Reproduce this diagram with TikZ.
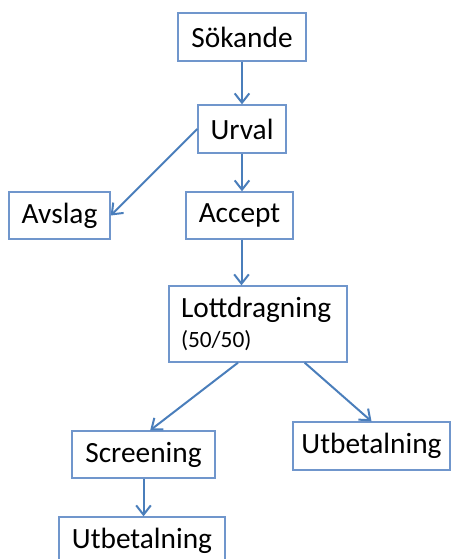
\documentclass[tikz,border=0pt]{standalone}
\usepackage{fontspec}
\setmainfont{Carlito}
\usepackage{tikz}
\usetikzlibrary{arrows.meta}

\definecolor{boxblue}{RGB}{112,150,204}
\definecolor{arrowblue}{RGB}{74,126,187}

\begin{document}
\begin{tikzpicture}[x=0.75pt,y=0.75pt,yscale=-1,xscale=1,
  box/.style={draw=boxblue,line width=1pt,fill=white,inner sep=0pt,font=\fontsize{22}{26}\selectfont},
  flow/.style={draw=arrowblue,line width=1.5pt,-{Straight Barb[length=7pt,width=11pt,line width=1.5pt]}}]
\useasboundingbox (0,0) rectangle (451,559);

% Boxes
\node[box,minimum width=96pt,minimum height=36pt] (sokande) at (242,37) {Sökande};
\node[box,minimum width=66pt,minimum height=36pt] (urval) at (242,129) {Urval};
\node[box,minimum width=75.75pt,minimum height=35.25pt] (avslag) at (59.5,215.5) {Avslag};
\node[box,minimum width=80.25pt,minimum height=35.25pt] (accept) at (239.5,215.5) {Accept};
\node[box,minimum width=133.5pt,minimum height=57pt,inner xsep=9pt,text width=115.5pt,align=left] (lott) at (258,324)
  {Lottdragning\\[-3pt]{\fontsize{17.5}{20}\selectfont (50/50)}};
\node[box,minimum width=117.75pt,minimum height=36pt] (utbhoger) at (371.5,446) {Utbetalning};
\node[box,minimum width=107.25pt,minimum height=35.25pt] (screening) at (143.5,454.5) {Screening};
\node[box,minimum width=124.5pt,minimum height=36pt] (utbvanster) at (142,541) {Utbetalning};

% Arrows
\draw[flow] (sokande.south) -- (urval.north);
\draw[flow] (urval.west) -- (avslag.east);
\draw[flow] (urval.south) -- (urval.south |- accept.north);
\draw[flow] ([xshift=1.5pt]accept.south) -- ([xshift=1.5pt]accept.south |- lott.north);
\draw[flow] ([xshift=-15pt]lott.south) -- ([xshift=5pt]screening.north);
\draw[flow] ([xshift=35pt]lott.south) -- (utbhoger.north);
\draw[flow] (screening.south) -- (screening.south |- utbvanster.north);

\end{tikzpicture}
\end{document}
